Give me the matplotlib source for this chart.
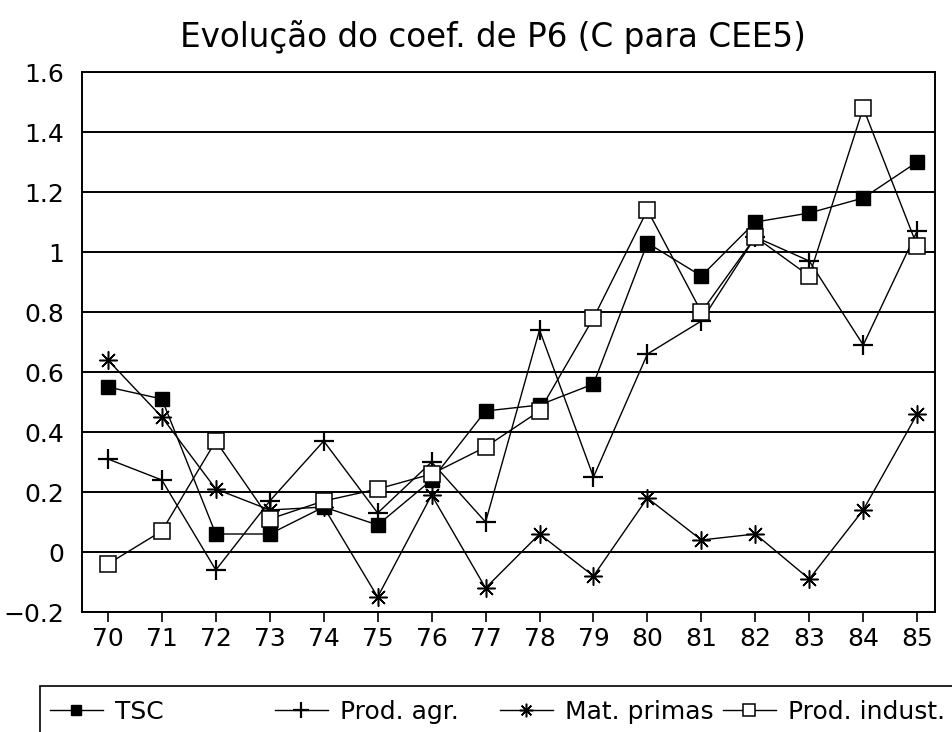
import matplotlib
matplotlib.use("Agg")
import matplotlib.pyplot as plt
from matplotlib.patches import Rectangle
from matplotlib.lines import Line2D

plt.rcParams['font.family'] = ['DejaVu Sans']

years = [70, 71, 72, 73, 74, 75, 76, 77, 78, 79, 80, 81, 82, 83, 84, 85]
tsc = [0.55, 0.51, 0.06, 0.06, 0.15, 0.09, 0.24, 0.47, 0.49, 0.56, 1.03, 0.92, 1.10, 1.13, 1.18, 1.30]
prod_agr = [0.31, 0.24, -0.06, 0.17, 0.37, 0.13, 0.30, 0.10, 0.74, 0.25, 0.66, 0.77, 1.05, 0.97, 0.69, 1.07]
mat_primas = [0.64, 0.45, 0.21, 0.14, 0.15, -0.15, 0.19, -0.12, 0.06, -0.08, 0.18, 0.04, 0.06, -0.09, 0.14, 0.46]
prod_indust = [-0.04, 0.07, 0.37, 0.11, 0.17, 0.21, 0.26, 0.35, 0.47, 0.78, 1.14, 0.80, 1.05, 0.92, 1.48, 1.02]
labels = ["TSC", "Prod. agr.", "Mat. primas", "Prod. indust."]
yticks = [-0.2, 0, 0.2, 0.4, 0.6, 0.8, 1, 1.2, 1.4, 1.6]
yticklabels = ["\u22120.2", "0", "0.2", "0.4", "0.6", "0.8", "1", "1.2", "1.4", "1.6"]

fig = plt.figure(figsize=(9.52, 7.32), dpi=100)
ax = fig.add_axes([82/952, 1-612/732, (935-82)/952, (612-72)/732])

styles = [
    dict(marker='s', ms=10, mfc='black', mec='black'),
    dict(marker='+', ms=15, mew=1.6, mec='black'),
    dict(marker=(8, 2, 0), ms=13, mew=1.1, mec='black'),
    dict(marker='s', ms=11, mfc='white', mec='black', mew=1.1),
]
series = [tsc, prod_agr, mat_primas, prod_indust]
for vals, st in zip(series, styles):
    ax.plot(years, vals, color='black', lw=1.0, zorder=3, **st)

ax.set_xlim(69.52, 85.33)
ax.set_ylim(-0.2, 1.6)
ax.set_xticks(years)
ax.set_xticklabels([str(y) for y in years])
ax.set_yticks(yticks)
ax.set_yticklabels(yticklabels)
ax.yaxis.grid(True, color='black', lw=1.4)
ax.tick_params(axis='x', direction='out', length=7, width=1.2, labelsize=18, pad=4)
ax.tick_params(axis='y', length=0, labelsize=18, pad=13)
for s in ax.spines.values():
    s.set_linewidth(1.4)

fig.text(493/952, 1-47/732, "Evolução do coef. de P6 (C para CEE5)", ha='center', va='baseline', fontsize=23.5)

# legend box, runs off the page at the right and bottom
fig.patches.append(Rectangle((40/952, -0.2), 1.2, 0.2 + (732-686)/732, transform=fig.transFigure,
                             fill=False, lw=1.2, color='black', clip_on=False))
xs = [50, 275, 500, 723]
for lab, st, x in zip(labels, styles, xs):
    h = Line2D([], [], color='black', lw=1.0, **st)
    fig.legend([h], [lab], loc='center left', bbox_to_anchor=(x/952, 1-712/732), frameon=False,
               fontsize=18, handlelength=2.1, handletextpad=0.5, borderpad=0, borderaxespad=0,
               markerscale=0.75)

fig.savefig("out.png", dpi=100)
